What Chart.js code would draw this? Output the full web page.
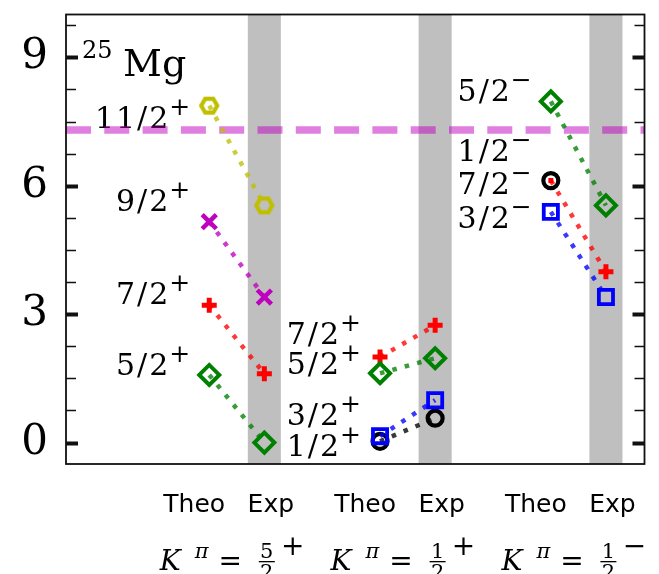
<!DOCTYPE html>
<html>
<head>
<meta charset="utf-8">
<script src="https://cdn.jsdelivr.net/npm/chart.js@4.4.1/dist/chart.umd.min.js"></script>
<style>
  html, body { margin: 0; padding: 0; background: #fff; }
  #wrap { width: 659px; height: 574px; }
</style>
</head>
<body>
<div id="wrap"><canvas id="levels"></canvas></div>
<script>
// x positions of the Theo / Exp columns for each K band
const theoX = [1, 4.1, 7.2];
const expX  = [2, 5.1, 8.2];
const bandK      = ['5', '1', '1'];
const bandParity = ['+', '+', '\u2212'];
const columnNames = ['Theo', 'Exp'];
const yTicks = [0, 3, 6, 9];

// one entry per level: band, spin, theory / experiment energies (MeV)
const levelBand   = [0, 0, 0, 0, 1, 1, 1, 1, 2, 2, 2, 2];
const levelSpin   = ['11/2', '9/2', '7/2', '5/2', '7/2', '5/2', '3/2', '1/2', '5/2', '1/2', '7/2', '3/2'];
const levelTheo   = [7.87, 5.16, 3.21, 1.58, 2.00, 1.62, 0.15, 0.03, 7.97, 6.12, 6.12, 5.39];
const levelExp    = [5.54, 3.40, 1.61, 0.00, 2.74, 1.97, 0.99, 0.57, 5.54, null, 3.99, 3.40];
// energies at which the spin labels sit (text baseline)
const labelY      = [7.35, 5.40, 3.24, 1.57, 2.30, 1.61, 0.42, -0.31, 7.99, 6.57, 5.81, 5.01];
const thresholdE  = 7.30;

const xMin = -1.6, xMax = 8.9;
const yMin = -0.5, yMax = 10;

const SERIF = '"DejaVu Serif", serif';
const SANS = '"DejaVu Sans", sans-serif';

function rgba(rgb, a) { return `rgba(${rgb[0]},${rgb[1]},${rgb[2]},${a})`; }

// flat-topped open hexagon, used for 11/2
function hexMarker(rgb) {
  const c = document.createElement('canvas');
  c.width = c.height = 26;
  const g = c.getContext('2d');
  g.strokeStyle = rgba(rgb, 1);
  g.lineWidth = 4.2;
  g.beginPath();
  for (let i = 0; i < 6; i++) {
    const a = i * Math.PI / 3;
    const px = 13 + 8 * Math.cos(a), py = 13 + 8 * Math.sin(a);
    if (i) g.lineTo(px, py); else g.moveTo(px, py);
  }
  g.closePath();
  g.stroke();
  return c;
}

const spinStyle = {
  '11/2': { rgb: [191, 191, 0], point: 'hex',      r: 9,   w: 4,   z: 2 },
  '9/2':  { rgb: [191, 0, 191], point: 'crossRot', r: 10,  w: 4.5, z: 2 },
  '7/2':  { rgb: [255, 0, 0],   point: 'cross',    r: 7.5, w: 5,   z: 3 },
  '5/2':  { rgb: [0, 128, 0],   point: 'rectRot',  r: 10,  w: 4,   z: 2 },
  '3/2':  { rgb: [0, 0, 255],   point: 'rect',     r: 10,  w: 3.8, z: 0 },
  '1/2':  { rgb: [0, 0, 0],     point: 'circle',   r: 7.5, w: 4.2, z: 1 }
};

const datasets = levelSpin.map((spin, i) => {
  const s = spinStyle[spin];
  const b = levelBand[i];
  const pts = [{ x: theoX[b], y: levelTheo[i] }];
  if (levelExp[i] !== null) pts.push({ x: expX[b], y: levelExp[i] });
  // the 7/2- theory point sits under the 1/2- ring
  const hidden = b === 2 && spin === '7/2';
  return {
    data: pts,
    borderColor: rgba(s.rgb, 0.78),
    borderWidth: 4.5,
    borderDash: [4.5, 8.3],
    pointStyle: s.point === 'hex' ? hexMarker(s.rgb) : s.point,
    pointRadius: hidden ? [2.5, s.r] : s.r,
    pointBorderWidth: s.w,
    pointBorderColor: rgba(s.rgb, 1),
    pointBackgroundColor: 'rgba(0,0,0,0)',
    order: s.z
  };
});

datasets.push({
  data: [{ x: xMin, y: thresholdE }, { x: xMax, y: thresholdE }],
  borderColor: 'rgba(191,0,191,0.5)',
  borderWidth: 7.5,
  borderDash: [25, 13.3],
  pointRadius: 0,
  order: 10
});

function drawSpin(ctx, right, base, spin, parity) {
  ctx.textBaseline = 'alphabetic';
  ctx.font = '30px ' + SERIF;
  ctx.letterSpacing = '2px';
  ctx.textAlign = 'right';
  ctx.fillText(spin, right + 2, base);
  ctx.letterSpacing = '0px';
  ctx.font = '25px ' + SERIF;
  ctx.textAlign = 'left';
  ctx.fillText(parity, right + 1, base - 13);
}

const decor = {
  id: 'decor',
  beforeDatasetsDraw(chart) {
    const { ctx, chartArea: a, scales: { x, y } } = chart;
    ctx.save();
    ctx.fillStyle = '#bfbfbf';
    expX.forEach(v => {
      const l = x.getPixelForValue(v - 0.3), r = x.getPixelForValue(v + 0.3);
      ctx.fillRect(l, a.top, r - l, a.bottom - a.top);
    });
    ctx.fillStyle = '#000';
    levelSpin.forEach((spin, i) => {
      const b = levelBand[i];
      drawSpin(ctx, x.getPixelForValue(theoX[b]) - 41, y.getPixelForValue(labelY[i]), spin, bandParity[b]);
    });
    ctx.restore();
  },
  afterDraw(chart) {
    const { ctx, chartArea: a, scales: { x, y } } = chart;
    ctx.save();
    // frame
    ctx.strokeStyle = '#111';
    ctx.lineWidth = 1.8;
    ctx.strokeRect(a.left, a.top, a.right - a.left, a.bottom - a.top);
    // inward ticks on both sides, every 0.75 MeV, major at multiples of 3
    for (let k = -1; k * 0.75 <= yMax; k++) {
      const v = k * 0.75;
      if (v < yMin) continue;
      const py = Math.round(y.getPixelForValue(v)) + 0.5;
      const major = k % 4 === 0;
      ctx.lineWidth = major ? 4 : 1.5;
      const len = major ? 12 : 10;
      ctx.beginPath();
      ctx.moveTo(a.left, py); ctx.lineTo(a.left + len, py);
      ctx.moveTo(a.right, py); ctx.lineTo(a.right - len, py);
      ctx.stroke();
    }
    ctx.fillStyle = '#000';
    // nucleus tag
    ctx.textAlign = 'left';
    ctx.textBaseline = 'alphabetic';
    ctx.font = '24px ' + SERIF;
    ctx.fillText('25', a.left + 16, a.top + 43);
    ctx.font = '38px ' + SERIF;
    ctx.fillText('Mg', a.left + 57, a.top + 61);
    // column names and K^pi under each band
    theoX.forEach((tv, b) => {
      const tp = x.getPixelForValue(tv), ep = x.getPixelForValue(expX[b]);
      ctx.font = '25px ' + SANS;
      ctx.textAlign = 'center';
      ctx.fillText(columnNames[0], tp - 15, a.bottom + 48);
      ctx.fillText(columnNames[1], ep + 6.5, a.bottom + 48);
      const gc = (tp + ep) / 2 - 4;
      const base = a.bottom + 106;
      ctx.textAlign = 'left';
      ctx.font = 'italic 28px ' + SERIF;
      ctx.fillText('K', gc - 73, base);
      ctx.font = 'italic 21px ' + SERIF;
      ctx.fillText('\u03c0', gc - 38, base - 12);
      ctx.textAlign = 'center';
      ctx.font = '28px ' + SERIF;
      ctx.fillText('=', gc - 2.5, base);
      ctx.font = '21px ' + SERIF;
      ctx.fillText(bandK[b], gc + 34, base - 12);
      ctx.fillText('2', gc + 34, base + 9);
      ctx.fillRect(gc + 26, base - 9, 16, 1.3);
      ctx.font = '28px ' + SERIF;
      ctx.fillText(bandParity[b], gc + 60, base - 15);
    });
    ctx.restore();
  }
};

new Chart(document.getElementById('levels'), {
  type: 'line',
  data: { datasets },
  options: {
    responsive: true,
    maintainAspectRatio: false,
    animation: false,
    layout: { padding: { top: 7, right: 11, left: 0, bottom: 0 } },
    plugins: { legend: { display: false }, tooltip: { enabled: false } },
    scales: {
      x: {
        type: 'linear', min: xMin, max: xMax,
        grid: { display: false }, border: { display: false },
        ticks: { display: false },
        afterFit: s => { s.height = 110; s.paddingLeft = 0; s.paddingRight = 0; }
      },
      y: {
        type: 'linear', min: yMin, max: yMax,
        grid: { display: false, drawTicks: false }, border: { display: false },
        afterBuildTicks: s => { s.ticks = yTicks.map(v => ({ value: v })); },
        ticks: { color: '#000', padding: 18, font: { family: 'DejaVu Serif', size: 42 } },
        afterFit: s => { s.width = 66; s.paddingTop = 0; s.paddingBottom = 0; }
      }
    }
  },
  plugins: [decor]
});
</script>
</body>
</html>
